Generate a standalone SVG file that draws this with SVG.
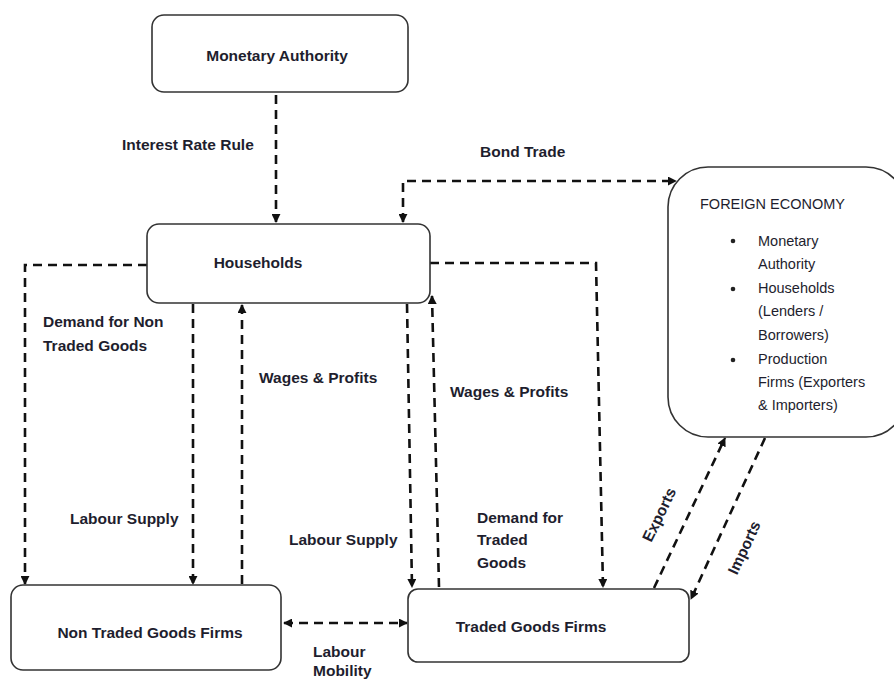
<svg xmlns="http://www.w3.org/2000/svg" width="894" height="681" viewBox="0 0 894 681">
<style>
.box{fill:#fff;stroke:#333;stroke-width:1.6}
.t{font-family:"Liberation Sans",Arial,sans-serif;font-size:15.5px;font-weight:bold;fill:#1e1e2e}
.n{font-family:"Liberation Sans",Arial,sans-serif;font-size:14.5px;fill:#1e1e2e}
.c{fill:none;stroke:#111;stroke-width:2.6;stroke-dasharray:9 6}
</style>
<defs>
<marker id="ah" viewBox="0 0 10 10" refX="9" refY="5" markerWidth="9" markerHeight="9" markerUnits="userSpaceOnUse" orient="auto-start-reverse">
<path d="M0,0 L10,5 L0,10 z" fill="#111"/>
</marker>
</defs>
<rect width="894" height="681" fill="#fff"/>
<g id="connectors">
<path class="c" d="M276,95 L276,222" marker-end="url(#ah)"/>
<path class="c" d="M147,265 L25,265 L25,584" marker-end="url(#ah)"/>
<path class="c" d="M193,304 L193,584" marker-end="url(#ah)"/>
<path class="c" d="M242,584 L242,305" marker-end="url(#ah)"/>
<path class="c" d="M407,304 L412,587" marker-end="url(#ah)"/>
<path class="c" d="M439,587 L432,296" marker-end="url(#ah)"/>
<path class="c" d="M430,263 L596,263 L603,587" marker-end="url(#ah)"/>
<path class="c" d="M403,222 L403,181 L676,181" marker-start="url(#ah)" marker-end="url(#ah)"/>
<path class="c" d="M654,588 L725,438" marker-end="url(#ah)"/>
<path class="c" d="M765,438 L691,599" marker-end="url(#ah)"/>
<path class="c" d="M284,623 L407,623" marker-start="url(#ah)" marker-end="url(#ah)"/>
</g>
<g id="monetary-authority">
<rect class="box" x="152" y="15" width="256" height="77" rx="12"/>
<text class="t" x="277" y="61" text-anchor="middle">Monetary Authority</text>
</g>
<g id="households">
<rect class="box" x="147" y="224" width="283" height="79" rx="12"/>
<text class="t" x="258" y="268" text-anchor="middle">Households</text>
</g>
<g id="non-traded-goods-firms">
<rect class="box" x="11" y="585" width="270" height="85" rx="12"/>
<text class="t" x="150" y="638" text-anchor="middle">Non Traded Goods Firms</text>
</g>
<g id="traded-goods-firms">
<rect class="box" x="408" y="589" width="281" height="73" rx="10"/>
<text class="t" x="531" y="632" text-anchor="middle">Traded Goods Firms</text>
</g>
<g id="foreign-economy">
<rect class="box" x="668" y="167" width="238" height="270" rx="40"/>
<text class="n" x="700" y="209">FOREIGN ECONOMY</text>
<circle cx="733" cy="241" r="2.3" fill="#222"/>
<circle cx="733" cy="289" r="2.3" fill="#222"/>
<circle cx="733" cy="360" r="2.3" fill="#222"/>
<text class="n" x="758" y="246">Monetary</text>
<text class="n" x="758" y="269">Authority</text>
<text class="n" x="758" y="293">Households</text>
<text class="n" x="758" y="316">(Lenders /</text>
<text class="n" x="758" y="340">Borrowers)</text>
<text class="n" x="758" y="364">Production</text>
<text class="n" x="758" y="387">Firms (Exporters</text>
<text class="n" x="758" y="410">&amp; Importers)</text>
</g>
<g id="labels">
<text class="t" x="122" y="150">Interest Rate Rule</text>
<text class="t" x="480" y="157">Bond Trade</text>
<text class="t" x="43" y="327">Demand for Non</text>
<text class="t" x="43" y="351">Traded Goods</text>
<text class="t" x="259" y="383">Wages &amp; Profits</text>
<text class="t" x="450" y="397">Wages &amp; Profits</text>
<text class="t" x="70" y="524">Labour Supply</text>
<text class="t" x="289" y="545">Labour Supply</text>
<text class="t" x="477" y="523">Demand for</text>
<text class="t" x="477" y="545">Traded</text>
<text class="t" x="477" y="568">Goods</text>
<text class="t" x="313" y="657">Labour</text>
<text class="t" x="313" y="676">Mobility</text>
<text class="t" x="664" y="517" text-anchor="middle" transform="rotate(-64 664 517)">Exports</text>
<text class="t" x="749" y="550" text-anchor="middle" transform="rotate(-65 749 550)">Imports</text>
</g>
</svg>
